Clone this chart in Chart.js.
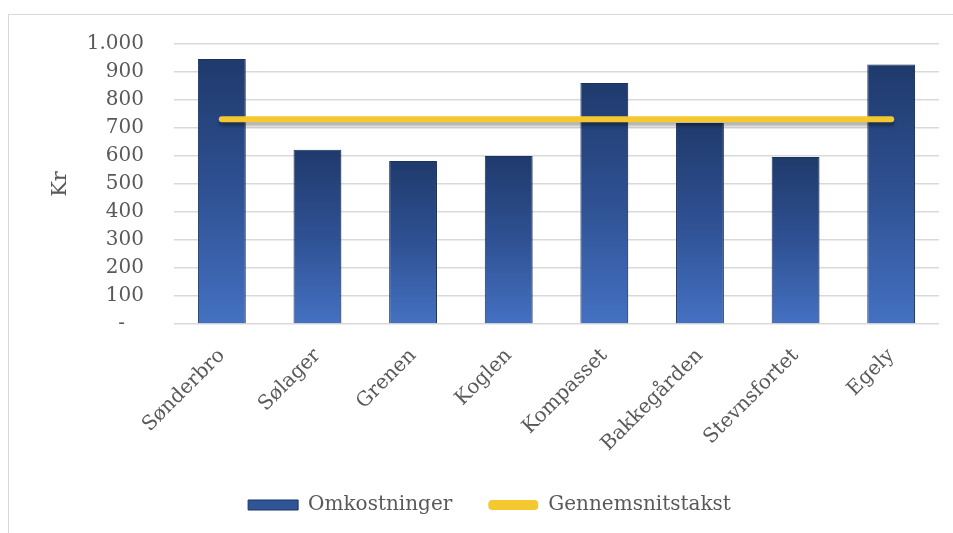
<!DOCTYPE html>
<html>
<head>
<meta charset="utf-8">
<script src="https://cdn.jsdelivr.net/npm/chart.js@4.4.1/dist/chart.umd.min.js"></script>
<style>
    html, body { margin: 0; padding: 0; background: #fff; }
    .wrap { position: relative; width: 953px; height: 533px; overflow: hidden; }
    .frame { position: absolute; left: 8px; top: 14px; width: 960px; height: 540px; border: 1px solid #d9d9d9; }
    canvas { position: absolute; left: 0; top: 0; }
</style>
</head>
<body>
<div class="wrap">
    <div class="frame"></div>
    <canvas id="cost-chart" width="953" height="533"></canvas>
</div>
<script>
const categories = ['Sønderbro', 'Sølager', 'Grenen', 'Koglen', 'Kompasset', 'Bakkegården', 'Stevnsfortet', 'Egely'];
const costs = [946, 622, 582, 600, 861, 718, 596, 927];
const averageRate = [731, 731, 731, 731, 731, 731, 731, 731];
const yTicks = [0, 100, 200, 300, 400, 500, 600, 700, 800, 900, 1000];

const fontFamily = '"DejaVu Serif", "Liberation Serif", serif';
const textColor = '#595959';

function barGradient(ctx) {
    const chart = ctx.chart;
    if (!chart.chartArea || ctx.type !== 'data') return '#2f5597';
    const y = chart.scales.y;
    const top = y.getPixelForValue(costs[ctx.dataIndex]);
    const bottom = y.getPixelForValue(0);
    const g = chart.ctx.createLinearGradient(0, top, 0, bottom);
    g.addColorStop(0, '#1f3a6c');
    g.addColorStop(0.5, '#2f5193');
    g.addColorStop(1, '#4471c2');
    return g;
}

const shadowPlugin = {
    id: 'shadows',
    beforeDatasetDraw(chart, args) {
        const c = chart.ctx;
        c.save();
        if (args.index === 1) {
            c.shadowColor = 'rgba(0,0,0,0.3)';
            c.shadowOffsetY = 4;
            c.shadowBlur = 3;
        } else {
            c.shadowColor = 'rgba(0,0,0,0.25)';
            c.shadowOffsetX = 2;
            c.shadowOffsetY = 1;
            c.shadowBlur = 3;
        }
    },
    afterDatasetDraw(chart) {
        chart.ctx.restore();
    }
};

new Chart(document.getElementById('cost-chart'), {
    type: 'bar',
    data: {
        labels: categories,
        datasets: [
            {
                type: 'bar',
                label: 'Omkostninger',
                data: costs,
                backgroundColor: barGradient,
                borderColor: '#1c3360',
                borderWidth: 1,
                barPercentage: 0.5,
                categoryPercentage: 1,
                order: 2
            },
            {
                type: 'line',
                label: 'Gennemsnitstakst',
                data: averageRate,
                borderColor: '#f4c82e',
                backgroundColor: '#f4c82e',
                borderWidth: 6,
                borderCapStyle: 'round',
                pointRadius: 0,
                order: 1
            }
        ]
    },
    options: {
        responsive: false,
        animation: false,
        layout: { autoPadding: false, padding: { left: 40, right: 14, top: 44, bottom: 8 } },
        scales: {
            x: {
                grid: { display: false, drawTicks: false },
                border: { display: false },
                afterFit(axis) { axis.height = 135; },
                ticks: {
                    color: textColor,
                    font: { family: fontFamily, size: 20 },
                    maxRotation: 45,
                    minRotation: 45,
                    padding: 20
                }
            },
            y: {
                min: 0,
                max: 1000,
                afterBuildTicks(axis) {
                    axis.ticks = yTicks.map(v => ({ value: v }));
                },
                afterFit(axis) { axis.width = 134; },
                grid: { color: '#d9d9d9', lineWidth: 1.5, drawTicks: false },
                border: { display: false },
                ticks: {
                    color: textColor,
                    font: { family: fontFamily, size: 20 },
                    padding: 30,
                    callback: v => v === 0 ? '-   ' : v.toLocaleString('da-DK')
                },
                title: {
                    display: true,
                    text: 'Kr',
                    color: textColor,
                    font: { family: fontFamily, size: 21 },
                    padding: { top: 8, bottom: 0 }
                }
            }
        },
        plugins: {
            tooltip: { enabled: false },
            legend: {
                position: 'bottom',
                labels: {
                    color: textColor,
                    font: { family: fontFamily, size: 20 },
                    boxWidth: 50,
                    boxHeight: 10,
                    padding: 36,
                    useBorderRadius: true,
                    generateLabels(chart) {
                        return chart.data.datasets.map((ds, i) => ({
                            text: ds.label,
                            fillStyle: i === 0 ? '#2f5597' : '#f4c82e',
                            strokeStyle: i === 0 ? '#1c3360' : '#f4c82e',
                            lineWidth: i === 0 ? 1 : 0,
                            borderRadius: i === 0 ? 0 : 4,
                            fontColor: textColor,
                            datasetIndex: i
                        }));
                    }
                }
            }
        }
    },
    plugins: [shadowPlugin]
});
</script>
</body>
</html>
